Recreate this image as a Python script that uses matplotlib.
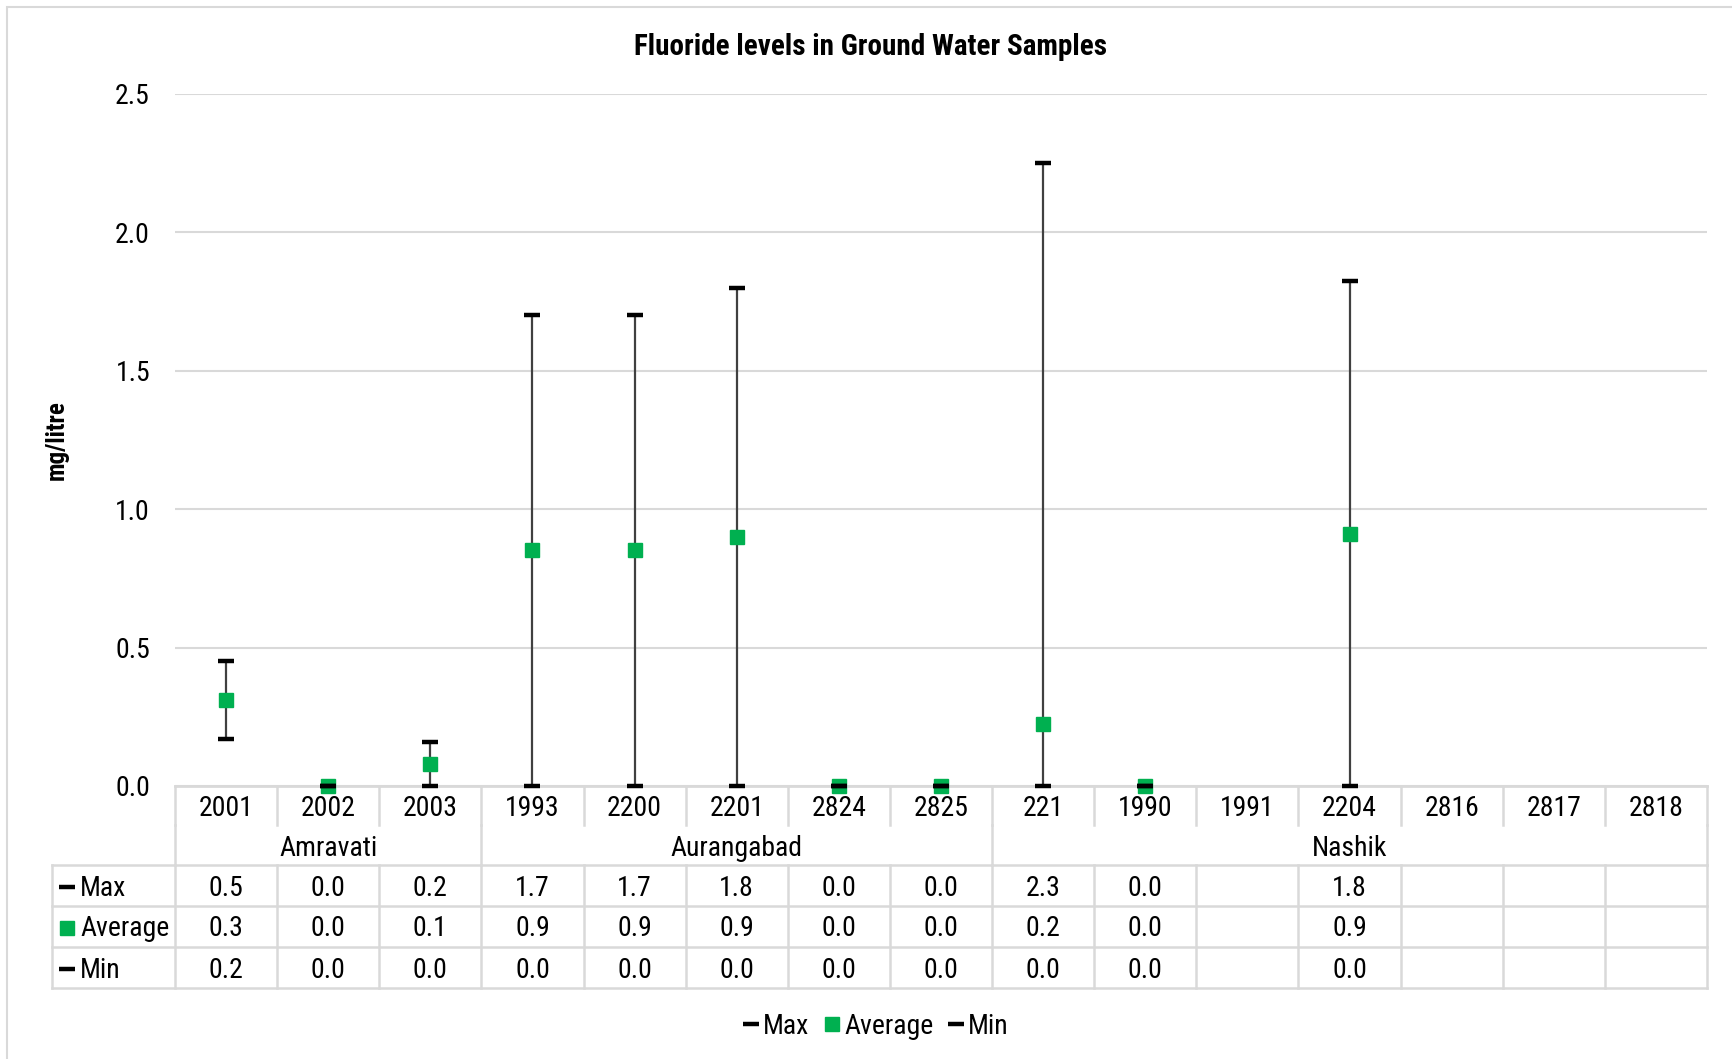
import numpy as np
import matplotlib
matplotlib.use("Agg")
import matplotlib.pyplot as plt
from matplotlib.lines import Line2D
from matplotlib.patches import Rectangle
from matplotlib.transforms import blended_transform_factory
from matplotlib import font_manager

# data
wells = ['2001', '2002', '2003', '1993', '2200', '2201', '2824', '2825',
         '221', '1990', '1991', '2204', '2816', '2817', '2818']
districts = ['Amravati', 'Aurangabad', 'Nashik']
district_sizes = [3, 5, 7]
max_vals = [0.45, 0.0, 0.16, 1.70, 1.70, 1.80, 0.0, 0.0, 2.252, 0.0, np.nan, 1.825, np.nan, np.nan, np.nan]
avg_vals = [0.31, 0.0, 0.08, 0.852, 0.852, 0.90, 0.0, 0.0, 0.225, 0.0, np.nan, 0.91, np.nan, np.nan, np.nan]
min_vals = [0.17, 0.0, 0.0, 0.0, 0.0, 0.0, 0.0, 0.0, 0.0, 0.0, np.nan, 0.0, np.nan, np.nan, np.nan]

# narrow font like Arial Narrow, falling back to plain Liberation Sans
names = set(f.name for f in font_manager.fontManager.ttflist)
fam = [f for f in ['Liberation Sans Narrow', 'Roboto Condensed', 'Archivo Narrow'] if f in names]
plt.rcParams['font.family'] = fam[:1] + ['Liberation Sans', 'DejaVu Sans']

W, H = 1732, 1059
fig = plt.figure(figsize=(W / 100, H / 100), dpi=100)

def fx(x):
    return x / W

def fy(y):
    return 1 - y / H

GRID = '#D9D9D9'
GREEN = '#00B050'
FS = 20
SQ = 10      # square marker size
DASH = dict(marker='_', color='black', ms=11, mew=3.2, ls='none')

# outer chart border (left/top visible)
fig.add_artist(Rectangle((fx(7), fy(1200)), 1.2, fy(7) - fy(1200), transform=fig.transFigure,
                         facecolor='none', edgecolor=GRID, lw=1.5))

ax = fig.add_axes([fx(175), fy(786), fx(1707) - fx(175), fy(94) - fy(786)])
n = len(wells)
x = np.arange(n) + 0.5
ax.set_xlim(0, n)
ax.set_ylim(0, 2.5)
ticks = np.arange(0, 2.51, 0.5)
ax.set_yticks(ticks)
ax.set_yticklabels(['%.1f' % v for v in ticks], fontsize=FS)
ax.set_xticks([])
ax.tick_params(axis='y', length=0, pad=18)
for s in ax.spines.values():
    s.set_visible(False)
ax.grid(axis='y', color=GRID, lw=1.5)
ax.set_axisbelow(True)
ax.axhline(0, color=GRID, lw=2, zorder=1, clip_on=False)

mx = np.array(max_vals)
av = np.array(avg_vals)
mn = np.array(min_vals)
ok = ~np.isnan(mx)
ax.vlines(x[ok], mn[ok], mx[ok], color='#404040', lw=1.6, zorder=2)
ax.plot(x, av, 's', color=GREEN, ms=SQ, zorder=3, clip_on=False)
ax.plot(x, mx, zorder=4, clip_on=False, **DASH)
ax.plot(x, mn, zorder=4, clip_on=False, **DASH)

fig.text(fx(870), fy(47), 'Fluoride levels in Ground Water Samples', fontsize=21,
         fontweight='bold', ha='center', va='center')
fig.text(fx(57), fy(440), 'mg/litre', fontsize=18, fontweight='bold', rotation=90,
         ha='center', va='center')

# data table below the axis
tr = blended_transform_factory(ax.transData, fig.transFigure)
rows_y = [786, 825, 865, 906, 947, 988]
kw = dict(color=GRID, lw=1.8, clip_on=False, transform=tr)
for i in range(n + 1):
    ax.plot([i, i], [fy(786), fy(825)], **kw)
edges = np.concatenate([[0], np.cumsum(district_sizes)])
for e in edges:
    ax.plot([e, e], [fy(825), fy(865)], **kw)
for i in range(n + 1):
    ax.plot([i, i], [fy(865), fy(988)], **kw)
left = fig.transFigure.transform((fx(52), 0))[0]
left_data = ax.transData.inverted().transform((left, 0))[0]
ax.plot([left_data, left_data], [fy(865), fy(988)], **kw)
for yy in rows_y[2:]:
    ax.plot([left_data, n], [fy(yy), fy(yy)], **kw)

for i, w in enumerate(wells):
    ax.text(x[i], fy(808), w, fontsize=FS, ha='center', va='center', transform=tr)
for j, d in enumerate(districts):
    ax.text((edges[j] + edges[j + 1]) / 2, fy(848), d, fontsize=FS, ha='center', va='center', transform=tr)

series = [('Max', mx, '_'), ('Average', av, 's'), ('Min', mn, '_')]
row_centers = [888, 929, 970]
for (label, vals, mk), yc in zip(series, row_centers):
    for i, v in enumerate(vals):
        if not np.isnan(v):
            ax.text(x[i], fy(yc), '%.1f' % v, fontsize=FS, ha='center', va='center', transform=tr)
    if mk == 's':
        fig.add_artist(Line2D([fx(67)], [fy(yc - 1)], marker='s', color=GREEN, ms=SQ, ls='none',
                              transform=fig.transFigure))
    else:
        fig.add_artist(Line2D([fx(67)], [fy(yc - 1)], transform=fig.transFigure, **DASH))
    fig.text(fx(80), fy(yc), label, fontsize=FS, ha='left', va='center')

handles = [Line2D([], [], **DASH),
           Line2D([], [], marker='s', color=GREEN, ms=SQ, ls='none'),
           Line2D([], [], **DASH)]
fig.legend(handles, ['Max', 'Average', 'Min'], loc='center', bbox_to_anchor=(fx(877), fy(1026)),
           ncol=3, frameon=False, fontsize=FS, handlelength=0.45, handletextpad=0.2,
           columnspacing=0.6)

fig.savefig('out.png', dpi=100)
